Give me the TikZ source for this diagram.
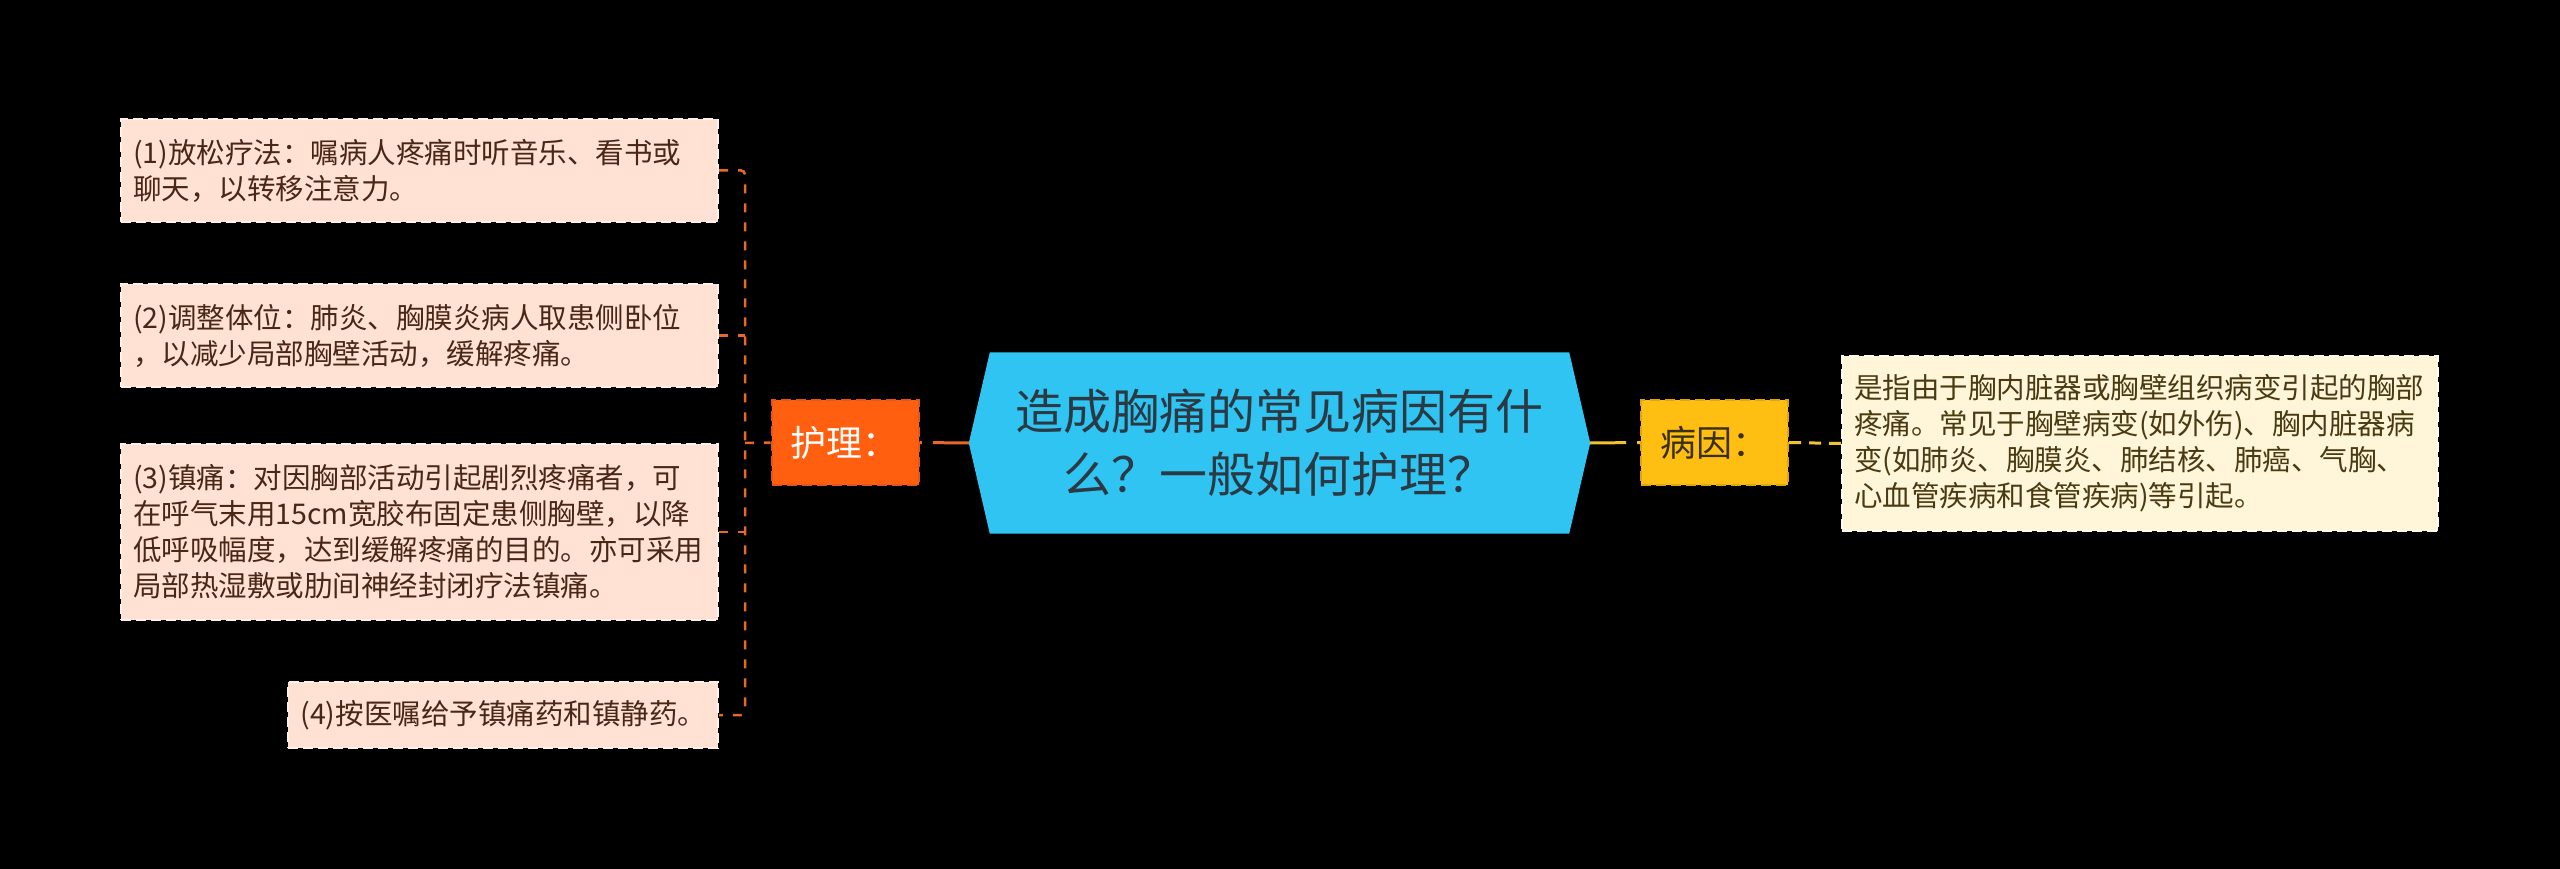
\documentclass[tikz,border=0pt]{standalone}
\usepackage{fontspec}
\newfontfamily\cjk{Noto Sans CJK SC}
\usetikzlibrary{backgrounds}
\definecolor{cfill}{HTML}{30C4F3}
\definecolor{ctext}{HTML}{2B3A42}
\definecolor{ofill}{HTML}{FF5F0F}
\definecolor{oborder}{HTML}{E2561A}
\definecolor{oline}{HTML}{E8682C}
\definecolor{yfill}{HTML}{FFBE12}
\definecolor{yborder}{HTML}{E0A50C}
\definecolor{yline}{HTML}{F2C230}
\definecolor{ytext}{HTML}{3A3010}
\definecolor{lfill}{HTML}{FFE2D4}
\definecolor{lborder}{HTML}{FFF1EA}
\definecolor{ltext}{HTML}{4A2617}
\definecolor{rfill}{HTML}{FFF5D9}
\definecolor{rborder}{HTML}{FFFBEF}
\definecolor{rtext}{HTML}{4A3A12}
\tikzset{
  leftbox/.style={font=\cjk\fontsize{28.5}{36}\selectfont, fill=lfill, draw=lborder,
    line width=2pt, dash pattern=on 10pt off 5pt, text=ltext, align=left,
    inner xsep=12pt, inner ysep=0pt},
  rightbox/.style={font=\cjk\fontsize{28.5}{36}\selectfont, fill=rfill, draw=rborder,
    line width=2pt, dash pattern=on 10pt off 5pt, text=rtext, align=left,
    inner xsep=12pt, inner ysep=0pt},
  labelbox/.style={font=\cjk\fontsize{36}{40}\selectfont, minimum width=147pt,
    minimum height=85pt, inner xsep=19pt, inner ysep=0pt, align=left, text width=109pt,
    line width=2pt, dash pattern=on 10pt off 5pt},
  centerbox/.style={font=\cjk\fontsize{48}{63}\selectfont, text=ctext, align=center,
    minimum width=621pt, minimum height=181pt, inner sep=0pt},
  bracket/.style={draw=oline, line width=2.5pt, dash pattern=on 9pt off 10pt},
  oconn/.style={draw=oline, line width=3pt, dash pattern=on 36pt off 11pt on 6pt off 0pt},
  yconn/.style={draw=yline, line width=3pt, dash pattern=on 36pt off 11pt on 6pt off 0pt},
  ydash/.style={draw=yline, line width=3pt, dash pattern=on 12pt off 8pt},
}
\begin{document}
\begin{tikzpicture}[x=1pt,y=-1pt]
\useasboundingbox (0,0) rectangle (2560,869);
\begin{scope}[on background layer]
\fill[black] (0,0) rectangle (2560,869);
\end{scope}

% center
\node[centerbox] (c) at (1279.5,443) {造成胸痛的常见病因有什\\么？一般如何护理？};
\begin{scope}[on background layer]
\fill[cfill] (c.west) -- ([xshift=21pt]c.north west) -- ([xshift=-21pt]c.north east)
  -- (c.east) -- ([xshift=-21pt]c.south east) -- ([xshift=21pt]c.south west) -- cycle;
\end{scope}

% labels
\node[labelbox, fill=ofill, draw=oborder, text=white] (hl) at (845,442.5) {护理：};
\node[labelbox, fill=yfill, draw=yborder, text=ytext] (hr) at (1714.5,442.5) {病因：};

% left boxes
\node[leftbox, text width=573pt, minimum height=103pt] (b1) at (419.5,170.5)
  {(1)放松疗法：嘱病人疼痛时听音乐、看书或\\聊天，以转移注意力。};
\node[leftbox, text width=573pt, minimum height=103pt] (b2) at (419.5,335.5)
  {(2)调整体位：肺炎、胸膜炎病人取患侧卧位\\，以减少局部胸壁活动，缓解疼痛。};
\node[leftbox, text width=573pt, minimum height=176pt] (b3) at (419.5,532)
  {(3)镇痛：对因胸部活动引起剧烈疼痛者，可\\在呼气末用15cm宽胶布固定患侧胸壁，以降\\低呼吸幅度，达到缓解疼痛的目的。亦可采用\\局部热湿敷或肋间神经封闭疗法镇痛。};
\node[leftbox, minimum height=66pt, anchor=east] (b4) at (719,715)
  {(4)按医嘱给予镇痛药和镇静药。};

% right box
\node[rightbox, text width=572pt, minimum height=175pt] (rb) at (2140,443.5)
  {是指由于胸内脏器或胸壁组织病变引起的胸部\\疼痛。常见于胸壁病变(如外伤)、胸内脏器病\\变(如肺炎、胸膜炎、肺结核、肺癌、气胸、\\心血管疾病和食管疾病)等引起。};

% connectors
\coordinate (sp) at (745,443);
\draw[bracket, rounded corners=4pt] (b1.east) -| (sp) |- (b4.east);
\draw[bracket] (b2.east) -- (b2.east -| sp);
\draw[bracket] (b3.east) -- (b3.east -| sp);
\draw[bracket] (sp) -- (hl.west);
\draw[oconn] (c.west) -- (hl.east);
\draw[yconn] (c.east) -- (hr.west);
\draw[ydash] (hr.east) -- (rb.west);
\end{tikzpicture}
\end{document}
